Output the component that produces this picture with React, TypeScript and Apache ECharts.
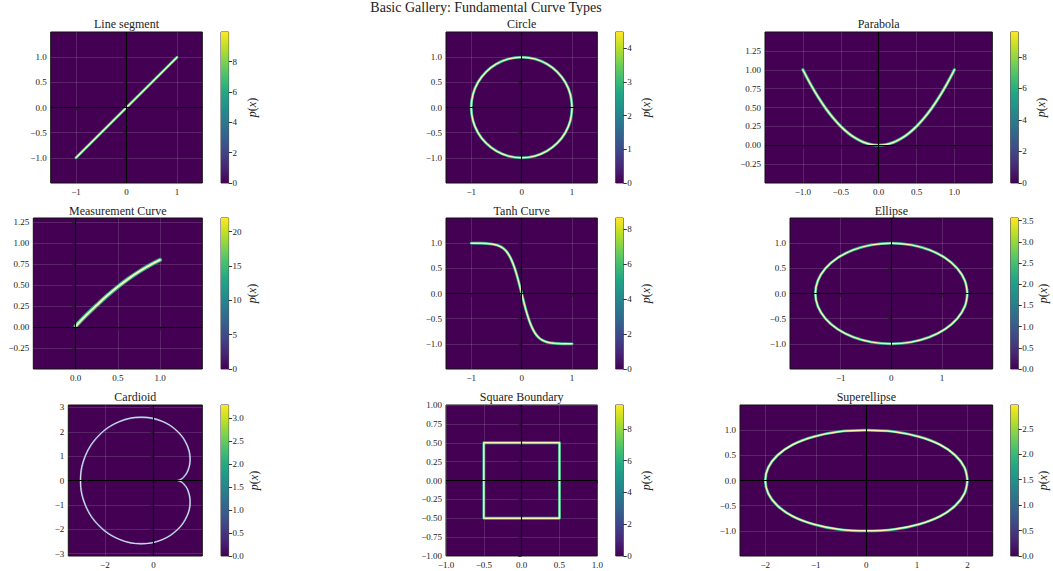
import React, { useEffect, useRef } from "react";
import * as echarts from "echarts";

const SUPTITLE = "Basic Gallery: Fundamental Curve Types";
const panelTitles = [
  "Line segment", "Circle", "Parabola",
  "Measurement Curve", "Tanh Curve", "Ellipse",
  "Cardioid", "Square Boundary", "Superellipse",
];

const lineSegment = [[-1, -1], [1, 1]];
const circle = [[1, 0], [0.966, 0.259], [0.866, 0.5], [0.707, 0.707], [0.5, 0.866], [0.259, 0.966], [0, 1], [-0.259, 0.966], [-0.5, 0.866], [-0.707, 0.707], [-0.866, 0.5], [-0.966, 0.259], [-1, 0], [-0.966, -0.259], [-0.866, -0.5], [-0.707, -0.707], [-0.5, -0.866], [-0.259, -0.966], [0, -1], [0.259, -0.966], [0.5, -0.866], [0.707, -0.707], [0.866, -0.5], [0.966, -0.259], [1, 0]];
const parabola = [[-1, 1], [-0.9, 0.81], [-0.8, 0.64], [-0.7, 0.49], [-0.6, 0.36], [-0.5, 0.25], [-0.4, 0.16], [-0.3, 0.09], [-0.2, 0.04], [-0.1, 0.01], [0, 0], [0.1, 0.01], [0.2, 0.04], [0.3, 0.09], [0.4, 0.16], [0.5, 0.25], [0.6, 0.36], [0.7, 0.49], [0.8, 0.64], [0.9, 0.81], [1, 1]];
const measurement = [[0, 0.01], [0.125, 0.14], [0.25, 0.26], [0.375, 0.375], [0.5, 0.48], [0.625, 0.575], [0.75, 0.66], [0.875, 0.735], [1, 0.8]];
const tanhCurve = [[-1, 1], [-0.8, 0.997], [-0.7, 0.993], [-0.6, 0.984], [-0.5, 0.964], [-0.4, 0.922], [-0.35, 0.885], [-0.3, 0.834], [-0.25, 0.762], [-0.2, 0.664], [-0.15, 0.537], [-0.1, 0.38], [-0.05, 0.197], [0, 0], [0.05, -0.197], [0.1, -0.38], [0.15, -0.537], [0.2, -0.664], [0.25, -0.762], [0.3, -0.834], [0.35, -0.885], [0.4, -0.922], [0.5, -0.964], [0.6, -0.984], [0.7, -0.993], [0.8, -0.997], [1, -1]];
const ellipse = [[1.5, 0], [1.449, 0.259], [1.299, 0.5], [1.061, 0.707], [0.75, 0.866], [0.389, 0.966], [0, 1], [-0.389, 0.966], [-0.75, 0.866], [-1.061, 0.707], [-1.299, 0.5], [-1.449, 0.259], [-1.5, 0], [-1.449, -0.259], [-1.299, -0.5], [-1.061, -0.707], [-0.75, -0.866], [-0.389, -0.966], [0, -1], [0.389, -0.966], [0.75, -0.866], [1.061, -0.707], [1.299, -0.5], [1.449, -0.259], [1.5, 0]];
const cardioid = [[1, 0], [1.066, 0.018], [1.232, 0.134], [1.414, 0.414], [1.5, 0.866], [1.384, 1.432], [1, 2], [0.348, 2.432], [-0.5, 2.598], [-1.414, 2.414], [-2.232, 1.866], [-2.798, 1.018], [-3, 0], [-2.798, -1.018], [-2.232, -1.866], [-1.414, -2.414], [-0.5, -2.598], [0.348, -2.432], [1, -2], [1.384, -1.432], [1.5, -0.866], [1.414, -0.414], [1.232, -0.134], [1.066, -0.018], [1, 0]];
const square = [[-0.5, -0.5], [0.5, -0.5], [0.5, 0.5], [-0.5, 0.5], [-0.5, -0.5]];
const superellipse = [[2, 0], [1.94, 0.26], [1.76, 0.5], [1.46, 0.71], [1.04, 0.87], [0.55, 0.97], [0, 1], [-0.55, 0.97], [-1.04, 0.87], [-1.46, 0.71], [-1.76, 0.5], [-1.94, 0.26], [-2, 0], [-1.94, -0.26], [-1.76, -0.5], [-1.46, -0.71], [-1.04, -0.87], [-0.55, -0.97], [0, -1], [0.55, -0.97], [1.04, -0.87], [1.46, -0.71], [1.76, -0.5], [1.94, -0.26], [2, 0]];

const curves = [lineSegment, circle, parabola, measurement, tanhCurve, ellipse, cardioid, square, superellipse];
const smoothFlags = [false, true, true, true, true, true, true, false, true];

const xRanges = [[-1.5, 1.5], [-1.5, 1.5], [-1.5, 1.5], [-0.5, 1.5], [-1.5, 1.5], [-2, 2], [-3.5, 2], [-1, 1], [-2.5, 2.5]];
const yRanges = [[-1.5, 1.5], [-1.5, 1.5], [-0.5, 1.5], [-0.5, 1.3], [-1.5, 1.5], [-1.5, 1.5], [-3.1, 3.1], [-1, 1], [-1.5, 1.5]];
const xTicks = [[-1, 0, 1], [-1, 0, 1], [-1, -0.5, 0, 0.5, 1], [0, 0.5, 1], [-1, 0, 1], [-1, 0, 1], [-2, 0], [-1, -0.5, 0, 0.5, 1], [-2, -1, 0, 1, 2]];
const yTicks = [
  [-1, -0.5, 0, 0.5, 1],
  [-1, -0.5, 0, 0.5, 1],
  [-0.25, 0, 0.25, 0.5, 0.75, 1, 1.25],
  [-0.25, 0, 0.25, 0.5, 0.75, 1, 1.25],
  [-1, -0.5, 0, 0.5, 1],
  [-1, -0.5, 0, 0.5, 1],
  [-3, -2, -1, 0, 1, 2, 3],
  [-1, -0.75, -0.5, -0.25, 0, 0.25, 0.5, 0.75, 1],
  [-1, -0.5, 0, 0.5, 1],
];
const xDecimals = [0, 0, 1, 1, 0, 0, 0, 1, 0];
const yDecimals = [1, 1, 2, 2, 1, 1, 0, 2, 1];

const cbMax = [9.95, 4.49, 9.57, 22.0, 8.63, 3.56, 3.28, 9.5, 2.97];
const cbTicks = [
  [0, 2, 4, 6, 8],
  [0, 1, 2, 3, 4],
  [0, 2, 4, 6, 8],
  [0, 5, 10, 15, 20],
  [0, 2, 4, 6, 8],
  [0, 0.5, 1, 1.5, 2, 2.5, 3, 3.5],
  [0, 0.5, 1, 1.5, 2, 2.5, 3],
  [0, 2, 4, 6, 8],
  [0, 0.5, 1, 1.5, 2, 2.5],
];
const cbDecimals = [0, 0, 0, 0, 0, 1, 1, 0, 1];

// layout (pixels)
const rowTops = [32, 218, 405];
const rowTitleY = [23.5, 210.5, 396.5];
const AX_H = 151;
const axLeft = [50.7, 446, 765, 33.3, 446, 790, 68.3, 446, 740];
const axRight = [202.3, 597.3, 992.3, 202.3, 597.3, 992.7, 202.3, 597.3, 992.7];
const cbLeft = [221, 615.7, 1010.7];
const CB_W = 7.6;

const FONT = "Liberation Serif";
const VIRIDIS = ["#440154", "#482475", "#414487", "#355f8d", "#2a788e", "#21918c", "#22a884", "#44bf70", "#7ad151", "#bddf26", "#fde725"];

const fmt = (d: number) => (v: number) => v.toFixed(d).replace("-", "\u2212");

export default function App() {
  const ref = useRef<HTMLDivElement>(null);
  useEffect(() => {
    if (!ref.current) return;
    const chart = echarts.init(ref.current, undefined, { renderer: "svg" });
    const grids: any[] = [];
    const xAxes: any[] = [];
    const yAxes: any[] = [];
    const series: any[] = [];
    const graphics: any[] = [];

    graphics.push({
      type: "text", x: 486, y: 7,
      style: { text: SUPTITLE, font: `14px '${FONT}'`, fill: "#222", textAlign: "center", textVerticalAlign: "middle" },
    });

    const tickStyle = { show: true, inside: false, length: 3.5, lineStyle: { color: "#000", width: 0.8 } };
    const labelStyle = { fontSize: 9, color: "#222", fontFamily: FONT };

    for (let i = 0; i < 9; i++) {
      const r = Math.floor(i / 3);
      grids.push({
        left: axLeft[i], top: rowTops[r], width: axRight[i] - axLeft[i], height: AX_H,
        show: true, backgroundColor: "#440154", borderColor: "#111", borderWidth: 1,
      });
      graphics.push({
        type: "text", x: (axLeft[i] + axRight[i]) / 2, y: rowTitleY[r],
        style: { text: panelTitles[i], font: `12px '${FONT}'`, fill: "#222", textAlign: "center", textVerticalAlign: "middle" },
      });
      xAxes.push({
        gridIndex: i, type: "value", min: xRanges[i][0], max: xRanges[i][1],
        axisLine: { show: false },
        axisTick: { ...tickStyle, customValues: xTicks[i] },
        axisLabel: { ...labelStyle, margin: 4, customValues: xTicks[i], formatter: fmt(xDecimals[i]) },
        splitLine: { show: false },
      });
      yAxes.push({
        gridIndex: i, type: "value", min: yRanges[i][0], max: yRanges[i][1],
        axisLine: { show: false },
        axisTick: { ...tickStyle, customValues: yTicks[i] },
        axisLabel: { ...labelStyle, margin: 4, customValues: yTicks[i], formatter: fmt(yDecimals[i]) },
        splitLine: { show: false },
      });
      const isCardioid = i === 6;
      const glowW = isCardioid ? 1.8 : i === 3 ? 4.2 : i === 2 ? 3.2 : 2.9;
      const coreW = isCardioid ? 0.9 : i === 3 ? 2 : 1.5;
      const glowC = isCardioid ? "rgba(150,190,215,0.7)" : "#2fae8a";
      const coreC = isCardioid ? "#e2eef4" : "#f5f6b4";
      series.push({
        type: "line", xAxisIndex: i, yAxisIndex: i, data: curves[i],
        symbol: "none", smooth: smoothFlags[i] ? 0.4 : false, silent: true, z: 2,
        lineStyle: { color: glowC, width: glowW, cap: "round", join: "round" },
        markLine: {
          silent: true, symbol: ["none", "none"], z: 1, animation: false,
          label: { show: false },
          lineStyle: { color: "rgba(255,255,255,0.17)", width: 0.8, type: "solid" },
          emphasis: { disabled: true },
          data: [...xTicks[i].map((v) => ({ xAxis: v })), ...yTicks[i].map((v) => ({ yAxis: v }))],
        },
      });
      series.push({
        type: "line", xAxisIndex: i, yAxisIndex: i, data: curves[i],
        symbol: "none", smooth: smoothFlags[i] ? 0.4 : false, silent: true, z: 3,
        lineStyle: { color: coreC, width: coreW, cap: "round", join: "round" },
        markLine: {
          silent: true, symbol: ["none", "none"], z: 5, animation: false,
          label: { show: false },
          lineStyle: { color: "#000", width: 1.1, type: "solid" },
          emphasis: { disabled: true },
          data: [{ xAxis: 0 }, { yAxis: 0 }],
        },
      });
    }

    for (let i = 0; i < 9; i++) {
      const r = Math.floor(i / 3);
      const c = i % 3;
      const gi = 9 + i;
      grids.push({
        left: cbLeft[c], top: rowTops[r], width: CB_W, height: AX_H,
        show: true, backgroundColor: "transparent", borderColor: "#111", borderWidth: 0.8,
      });
      xAxes.push({ gridIndex: gi, type: "category", data: ["p"], show: false });
      yAxes.push({
        gridIndex: gi, type: "value", position: "right", min: 0, max: cbMax[i],
        axisLine: { show: false },
        axisTick: { ...tickStyle, customValues: cbTicks[i] },
        axisLabel: { ...labelStyle, margin: 4, customValues: cbTicks[i], formatter: fmt(cbDecimals[i]) },
        splitLine: { show: false },
        name: "{i|p}({i|x})",
        nameLocation: "middle", nameRotate: 90, nameGap: 17,
        nameTextStyle: {
          fontSize: 12, fontFamily: FONT, color: "#222",
          rich: { i: { fontSize: 12, fontFamily: FONT, fontStyle: "italic", color: "#222" } },
        },
      });
      series.push({
        type: "bar", xAxisIndex: gi, yAxisIndex: gi, data: [cbMax[i]], barWidth: "100%", silent: true, z: 1,
        itemStyle: {
          color: new echarts.graphic.LinearGradient(0, 1, 0, 0,
            VIRIDIS.map((col, k) => ({ offset: k / (VIRIDIS.length - 1), color: col }))),
        },
      });
    }

    chart.setOption({
      animation: false,
      backgroundColor: "#ffffff",
      textStyle: { fontFamily: FONT },
      grid: grids,
      xAxis: xAxes,
      yAxis: yAxes,
      series,
      graphic: graphics,
    });
    return () => chart.dispose();
  }, []);
  return <div ref={ref} style={{ position: "absolute", left: 0, top: 0, width: 1053, height: 571 }} />;
}
